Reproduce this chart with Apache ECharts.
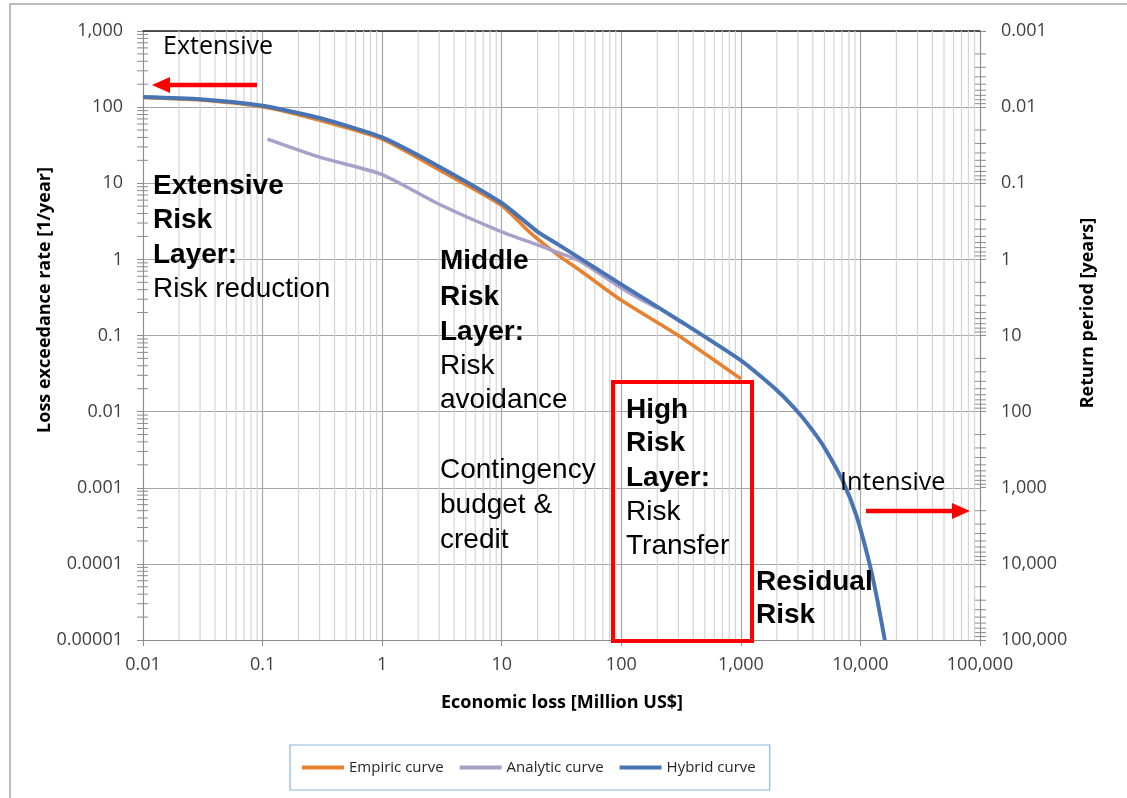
<!DOCTYPE html>
<html>
<head>
<meta charset="utf-8">
<title>Loss exceedance curve</title>
<script src="https://cdn.jsdelivr.net/npm/echarts@6/dist/echarts.min.js"></script>
<style>
  html, body { margin: 0; padding: 0; background: #fff; }
  #chart { width: 1127px; height: 798px; }
</style>
</head>
<body>
<div id="chart"></div>
<script>
// economic loss [Million US$] vs loss exceedance rate [1/year]
var empiricLoss = [0.01, 0.03, 0.1, 0.3, 1, 3, 10, 17, 30, 45, 100, 300, 1000];
var empiricRate = [134, 124, 101, 67, 38, 15, 5.1, 2.3, 1.12, 0.72, 0.29, 0.1, 0.027];

var analyticLoss = [0.11, 0.3, 1, 3, 10, 20, 30, 45, 100, 140, 200];
var analyticRate = [38, 22, 13, 5.3, 2.3, 1.55, 1.22, 0.95, 0.42, 0.31, 0.23];

var hybridLoss = [0.01, 0.03, 0.1, 0.3, 1, 3, 10, 20, 30, 100, 300, 1000, 2000, 3100, 4300, 5200, 7100, 9300, 12000, 13700, 16000];
var hybridRate = [136, 127, 104, 72, 40, 16.5, 5.5, 2.3, 1.55, 0.47, 0.16, 0.047, 0.0191, 0.0093, 0.0048, 0.00305, 0.00124, 0.00042, 0.000096, 0.0000365, 0.00001];

var seriesNames = ['Empiric curve', 'Analytic curve', 'Hybrid curve'];
var seriesColors = ['#e8812f', '#aa9fc8', '#4874b3'];

// axis ranges (decades)
var lossRange = [0.01, 100000];
var rateRange = [0.00001, 1000];
var periodRange = [0.001, 100000];

function pairs(xs, ys) {
  return xs.map(function (x, i) { return [x, ys[i]]; });
}

function decadeLabel(v) {
  var e = Math.round(Math.log10(v));
  if (e >= 0) return Math.pow(10, e).toLocaleString('en-US');
  return '0.' + '0'.repeat(-e - 1) + '1';
}

// 2..9 times each decade, for the minor grid / ticks
function minorValues(range) {
  var out = [];
  var lo = Math.round(Math.log10(range[0]));
  var hi = Math.round(Math.log10(range[1]));
  for (var e = lo; e < hi; e++) {
    for (var m = 2; m <= 9; m++) out.push(m * Math.pow(10, e));
  }
  return out;
}

var xMinor = minorValues(lossRange);
var yMinor = minorValues(rateRange);
var rMinor = minorValues(periodRange);

var font = 'Open Sans';
var gray = '#8c8c8c';

var chart = echarts.init(document.getElementById('chart'));

function lineSeries(i, xs, ys, width) {
  return {
    name: seriesNames[i],
    type: 'line',
    data: pairs(xs, ys),
    showSymbol: false,
    smooth: 0.2,
    color: seriesColors[i],
    lineStyle: { width: width, color: seriesColors[i] },
    z: 5 + i
  };
}

function textLine(x, y, txt, bold, size) {
  return {
    type: 'text', x: x, y: y, z: 100,
    style: {
      text: txt,
      fill: '#000',
      fontFamily: bold === null ? font : 'Liberation Sans',
      fontWeight: bold ? 'bold' : 'normal',
      fontSize: size || 28,
      verticalAlign: 'middle',
      align: 'left'
    }
  };
}

function block(x, rows) {
  return rows.map(function (r) { return textLine(x, r[0], r[1], r[2]); });
}

var annotations = []
  .concat(block(153, [[186, 'Extensive', true], [220, 'Risk', true], [255, 'Layer:', true], [289, 'Risk reduction', false]]))
  .concat(block(440, [[261, 'Middle', true], [297, 'Risk', true], [332, 'Layer:', true], [366, 'Risk', false], [400, 'avoidance', false],
                      [470, 'Contingency', false], [505, 'budget &', false], [540, 'credit', false]]))
  .concat(block(626, [[410, 'High', true], [443, 'Risk', true], [478, 'Layer:', true], [512, 'Risk', false], [546, 'Transfer', false]]))
  .concat(block(756, [[582, 'Residual', true], [615, 'Risk', true]]));

var titleStyle = { fontFamily: font, fontWeight: 'bold', fontSize: 18, fill: '#000', align: 'center', verticalAlign: 'middle' };

var option = {
  animation: false,
  backgroundColor: '#fff',
  grid: { left: 143, right: 147, top: 31, bottom: 158 },
  legend: {
    data: seriesNames,
    left: 290, top: 745,
    padding: [15, 14, 15, 12],
    itemGap: 16, itemWidth: 42, itemHeight: 4,
    icon: 'rect',
    borderColor: '#8db3e2', borderWidth: 1.2,
    textStyle: { fontFamily: font, fontSize: 15, color: '#262626' }
  },
  xAxis: [{
    type: 'log', logBase: 10,
    min: lossRange[0], max: lossRange[1],
    axisLine: { lineStyle: { color: gray } },
    axisTick: { show: true, length: 6, lineStyle: { color: gray } },
    axisLabel: { formatter: decadeLabel, fontFamily: font, fontSize: 18, color: '#404040', margin: 16 },
    splitLine: { show: true, lineStyle: { color: '#a6a6a6', width: 1.2 } }
  }, {
    type: 'log', logBase: 10, position: 'top',
    min: lossRange[0], max: lossRange[1],
    axisLine: { lineStyle: { color: '#262626', width: 1.5 } },
    axisTick: { show: false }, axisLabel: { show: false }, splitLine: { show: false }
  }],
  yAxis: [{
    type: 'log', logBase: 10,
    min: rateRange[0], max: rateRange[1],
    axisLine: { show: true, lineStyle: { color: gray } },
    axisTick: { show: true, length: 6, lineStyle: { color: gray } },
    axisLabel: { formatter: decadeLabel, fontFamily: font, fontSize: 18, color: '#404040', margin: 20 },
    splitLine: { show: true, lineStyle: { color: '#a6a6a6', width: 1.2 } }
  }, {
    type: 'log', logBase: 10, position: 'right', inverse: true,
    min: periodRange[0], max: periodRange[1],
    axisLine: { show: true, lineStyle: { color: gray } },
    axisTick: { show: true, length: 6, lineStyle: { color: gray } },
    axisLabel: { formatter: decadeLabel, fontFamily: font, fontSize: 18, color: '#404040', margin: 21 },
    splitLine: { show: false }
  }],
  series: [
    {
      // minor vertical grid lines
      type: 'custom', silent: true, z: 1,
      data: xMinor.map(function (v) { return [v, 1]; }),
      renderItem: function (params, api) {
        var cs = params.coordSys;
        var p = api.coord([api.value(0), 1]);
        return { type: 'line', shape: { x1: p[0], y1: cs.y, x2: p[0], y2: cs.y + cs.height },
                 style: { stroke: '#d4d4d4', lineWidth: 1.2 } };
      }
    },
    {
      // minor ticks on the rate axis
      type: 'custom', silent: true, z: 3,
      data: yMinor.map(function (v) { return [lossRange[0], v]; }),
      renderItem: function (params, api) {
        var cs = params.coordSys;
        var p = api.coord([lossRange[0], api.value(1)]);
        return { type: 'line', shape: { x1: cs.x - 6, y1: p[1], x2: cs.x + 5, y2: p[1] },
                 style: { stroke: gray, lineWidth: 1 } };
      }
    },
    {
      // minor ticks on the return period axis
      type: 'custom', silent: true, z: 3, yAxisIndex: 1,
      data: rMinor.map(function (v) { return [lossRange[0], v]; }),
      renderItem: function (params, api) {
        var cs = params.coordSys;
        var p = api.coord([lossRange[0], api.value(1)]);
        var r = cs.x + cs.width;
        return { type: 'line', shape: { x1: r - 5, y1: p[1], x2: r + 6, y2: p[1] },
                 style: { stroke: gray, lineWidth: 1 } };
      }
    },
    lineSeries(0, empiricLoss, empiricRate, 3.5),
    lineSeries(1, analyticLoss, analyticRate, 3.5),
    lineSeries(2, hybridLoss, hybridRate, 4)
  ],
  graphic: [
    // outer frame
    { type: 'polyline', z: 100, shape: { points: [[10, 798], [10, 4], [1127, 4]] },
      style: { stroke: '#a6a6a6', lineWidth: 1.5, fill: null } },
    // axis titles
    { type: 'text', x: 562, y: 703, z: 100, style: Object.assign({ text: 'Economic loss [Million US$]' }, titleStyle) },
    { type: 'text', x: 45, y: 300, rotation: Math.PI / 2, z: 100,
      style: Object.assign({ text: 'Loss exceedance rate [1/year]' }, titleStyle) },
    { type: 'text', x: 1088, y: 313, rotation: Math.PI / 2, z: 100,
      style: Object.assign({ text: 'Return period [years]' }, titleStyle) },
    // high risk box
    { type: 'rect', z: 90, shape: { x: 613, y: 382, width: 139, height: 259 },
      style: { stroke: '#ff0000', lineWidth: 4, fill: null } },
    // arrows
    { type: 'line', z: 90, shape: { x1: 257, y1: 85, x2: 166, y2: 85 }, style: { stroke: '#ff0000', lineWidth: 4.5 } },
    { type: 'polygon', z: 90, shape: { points: [[152, 85], [170, 77], [170, 93]] }, style: { fill: '#ff0000' } },
    { type: 'line', z: 90, shape: { x1: 866, y1: 511, x2: 956, y2: 511 }, style: { stroke: '#ff0000', lineWidth: 4.5 } },
    { type: 'polygon', z: 90, shape: { points: [[970, 511], [952, 503], [952, 519]] }, style: { fill: '#ff0000' } },
    textLine(163, 47, 'Extensive', null, 25),
    textLine(840, 483, 'Intensive', null, 25)
  ].concat(annotations)
};

chart.setOption(option);
</script>
</body>
</html>
